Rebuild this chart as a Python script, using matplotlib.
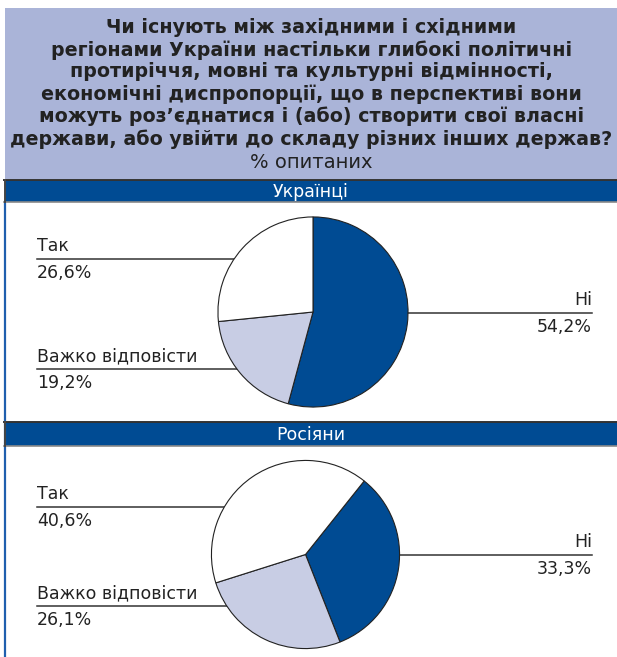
import matplotlib.pyplot as plt
from matplotlib.patches import Rectangle

plt.rcParams['font.family'] = ['DejaVu Sans']

W, H = 617, 657

title = ("Чи існують між західними і східними\n"
         "регіонами України настільки глибокі політичні\n"
         "протиріччя, мовні та культурні відмінності,\n"
         "економічні диспропорції, що в перспективі вони\n"
         "можуть роз’єднатися і (або) створити свої власні\n"
         "держави, або увійти до складу різних інших держав?")
subtitle = "% опитаних"

groups = ["Українці", "Росіяни"]
categories = ["Ні", "Важко відповісти", "Так"]
ukrainians = [54.2, 19.2, 26.6]
russians = [33.3, 26.1, 40.6]
start_angles = [90, 51.4]

colors = ["#004b93", "#c8cde4", "#ffffff"]
header_col = "#aab4d8"
bar_col = "#004b93"

# layout in pixels: (bar top, bar bottom, pie cx, pie cy, radius, y of lines Так, Важко, Ні)
layout = [
    (180, 202, 313, 312, 96, 259, 369, 313),
    (422, 446, 305.5, 554.5, 95, 507, 606, 555),
]

fig = plt.figure(figsize=(W / 100, H / 100), dpi=100)
ax = fig.add_axes([0, 0, 1, 1])
ax.set_xlim(0, W)
ax.set_ylim(H, 0)
ax.axis("off")

ax.add_patch(Rectangle((5, 8), W - 5, 171, color=header_col, lw=0))
ax.text(311.5, 18, title, ha="center", va="top", fontsize=13.7, fontweight="bold",
        color="#222222", linespacing=1.19)
ax.text(311, 163, subtitle, ha="center", va="center", fontsize=14, color="#222222")

ax.plot([5, 5], [202, H], color="#1f5fae", lw=1.6)

for g, vals, start, (bt, bb, cx, cy, r, y_yes, y_hard, y_no) in zip(
        groups, [ukrainians, russians], start_angles, layout):
    ax.add_patch(Rectangle((5, bt), W - 5, bb - bt, color=bar_col, lw=0))
    ax.plot([4, W], [bt, bt], color="#333333", lw=1.4)
    ax.plot([4, W], [bb, bb], color="#8a8a8a", lw=1.2)
    ax.plot([4.5, 4.5], [bt, bb], color="#444444", lw=1.4)
    ax.text(311, (bt + bb) / 2 + 1, g, ha="center", va="center", fontsize=12.5, color="white")

    # leader lines and labels
    for name, v, ly in zip(categories, vals, [y_no, y_hard, y_yes]):
        pct = f"{v:.1f}%".replace(".", ",")
        if name == "Ні":
            ax.plot([cx, 592], [ly, ly], color="#333333", lw=1.1)
            ax.text(592, ly - 4, name, ha="right", va="bottom", fontsize=12.5, color="#222222")
            ax.text(592, ly + 5, pct, ha="right", va="top", fontsize=12.5, color="#222222")
        else:
            ax.plot([37, cx], [ly, ly], color="#333333", lw=1.1)
            ax.text(37, ly - 4, name, ha="left", va="bottom", fontsize=12.5, color="#222222")
            ax.text(37, ly + 5, pct, ha="left", va="top", fontsize=12.5, color="#222222")

    pax = fig.add_axes([(cx - r) / W, (H - cy - r) / H, 2 * r / W, 2 * r / H])
    pax.pie(vals, colors=colors, startangle=start, counterclock=False, radius=1,
            wedgeprops=dict(edgecolor="#222222", linewidth=0.8))
    pax.set_xlim(-1.01, 1.01)
    pax.set_ylim(-1.01, 1.01)
    pax.set_aspect("auto")
    pax.axis("off")

fig.savefig("out.png", dpi=100)
